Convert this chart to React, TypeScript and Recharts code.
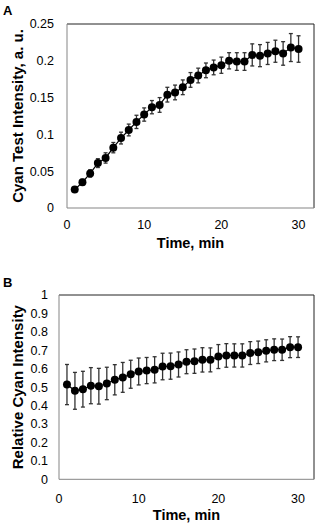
import { LineChart, Line, XAxis, YAxis, ErrorBar, ReferenceLine } from "recharts";

const times = [1, 2, 3, 4, 5, 6, 7, 8, 9, 10, 11, 12, 13, 14, 15, 16, 17, 18, 19, 20, 21, 22, 23, 24, 25, 26, 27, 28, 29, 30];

const cyanTest = [0.025, 0.035, 0.047, 0.061, 0.068, 0.082, 0.095, 0.106, 0.117, 0.127, 0.137, 0.14, 0.154, 0.157, 0.164, 0.174, 0.18, 0.187, 0.191, 0.194, 0.2, 0.199, 0.199, 0.208, 0.207, 0.21, 0.213, 0.21, 0.218, 0.216];
const cyanTestErr = [0.003, 0.004, 0.005, 0.006, 0.007, 0.007, 0.008, 0.008, 0.009, 0.009, 0.009, 0.01, 0.01, 0.01, 0.01, 0.01, 0.01, 0.01, 0.01, 0.011, 0.011, 0.012, 0.012, 0.015, 0.015, 0.015, 0.015, 0.016, 0.019, 0.018];

const relCyan = [0.514, 0.48, 0.489, 0.508, 0.505, 0.52, 0.54, 0.553, 0.57, 0.585, 0.59, 0.594, 0.612, 0.614, 0.623, 0.638, 0.641, 0.648, 0.648, 0.666, 0.672, 0.672, 0.672, 0.685, 0.689, 0.697, 0.703, 0.703, 0.717, 0.717];
const relCyanErr = [0.109, 0.1, 0.097, 0.098, 0.097, 0.088, 0.082, 0.081, 0.076, 0.073, 0.071, 0.071, 0.072, 0.071, 0.068, 0.065, 0.066, 0.066, 0.065, 0.065, 0.064, 0.063, 0.063, 0.062, 0.061, 0.06, 0.059, 0.058, 0.057, 0.056];

const xTicks = [0, 10, 20, 30];
const xMax = 32;
const yTicksA = [0, 0.05, 0.1, 0.15, 0.2, 0.25];
const yTicksB = [0, 0.1, 0.2, 0.3, 0.4, 0.5, 0.6, 0.7, 0.8, 0.9, 1];

const font = "'Liberation Sans', Arial, sans-serif";
const tickStyle = { fill: "#000", fontSize: 12.5, fontFamily: font };
const titleStyle = { fill: "#000", fontSize: 14.5, fontWeight: 700, fontFamily: font };

const dataA = times.map((t, i) => ({ t, v: cyanTest[i], e: cyanTestErr[i] }));
const dataB = times.map((t, i) => ({ t, v: relCyan[i], e: relCyanErr[i] }));

type PanelProps = {
  data: { t: number; v: number; e: number }[];
  height: number;
  top: number;
  yWidth: number;
  xHeight: number;
  xTickMargin: number;
  yTickMargin: number;
  xTitleOffset: number;
  yDomain: [number, number];
  yTicks: number[];
  yTitle: string;
  yTitleSize: number;
};

function Panel(p: PanelProps) {
  return (
    <LineChart width={319} height={p.height} data={p.data} margin={{ top: p.top, right: 5, bottom: 0, left: 0 }}>
      <XAxis
        type="number"
        dataKey="t"
        domain={[0, xMax]}
        ticks={xTicks}
        interval={0}
        tickLine={false}
        tickSize={6}
        tickMargin={p.xTickMargin}
        height={p.xHeight}
        stroke="#858585"
        tick={tickStyle}
        label={{ value: "Time, min", position: "insideBottom", offset: p.xTitleOffset, style: titleStyle }}
      />
      <YAxis
        type="number"
        domain={p.yDomain}
        ticks={p.yTicks}
        interval={0}
        tickLine={false}
        tickSize={6}
        tickMargin={p.yTickMargin}
        width={p.yWidth}
        stroke="#858585"
        tick={tickStyle}
        label={{
          value: p.yTitle,
          angle: -90,
          position: "insideLeft",
          offset: 18,
          style: { ...titleStyle, fontSize: p.yTitleSize, textAnchor: "middle" }
        }}
      />
      {/* plot-area frame, top and right */}
      <ReferenceLine y={p.yDomain[1]} stroke="#222" strokeWidth={1} />
      <ReferenceLine x={xMax} stroke="#222" strokeWidth={1} />
      <Line
        type="linear"
        dataKey="v"
        stroke="#000"
        strokeWidth={1.2}
        dot={{ r: 4, fill: "#000", stroke: "#000", strokeWidth: 0 }}
        isAnimationActive={false}
      >
        <ErrorBar dataKey="e" direction="y" width={2} stroke="#333" strokeWidth={1.3} isAnimationActive={false} />
      </Line>
    </LineChart>
  );
}

export default function App() {
  return (
    <div style={{ position: "absolute", left: 0, top: 0, width: 319, height: 528, background: "#fff" }}>
      <div style={{ position: "absolute", left: 0, top: 0 }}>
        <Panel
          data={dataA}
          height={260}
          top={24}
          yWidth={67}
          xHeight={52}
          xTickMargin={6.4}
          yTickMargin={7}
          xTitleOffset={12}
          yDomain={[0, 0.25]}
          yTicks={yTicksA}
          yTitle="Cyan Test Intensity, a. u."
          yTitleSize={15}
        />
      </div>
      <div style={{ position: "absolute", left: 0, top: 260 }}>
        <Panel
          data={dataB}
          height={268}
          top={35}
          yWidth={59}
          xHeight={48.7}
          xTickMargin={8.5}
          yTickMargin={5}
          xTitleOffset={8}
          yDomain={[0, 1]}
          yTicks={yTicksB}
          yTitle="Relative Cyan Intensity"
          yTitleSize={15}
        />
      </div>
      <svg width={319} height={528} style={{ position: "absolute", left: 0, top: 0, pointerEvents: "none" }}>
        <text x={3} y={15} fontSize={13} fontWeight={700} fontFamily={font}>A</text>
        <text x={3} y={287} fontSize={13} fontWeight={700} fontFamily={font}>B</text>
      </svg>
    </div>
  );
}
